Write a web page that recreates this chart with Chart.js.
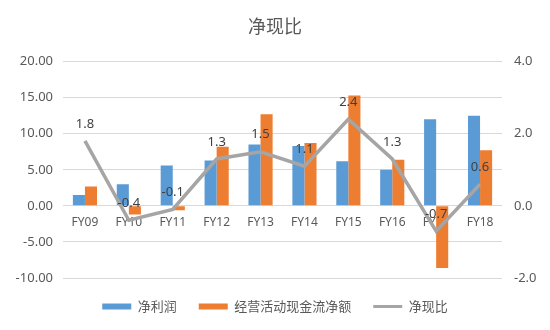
<!DOCTYPE html>
<html><head><meta charset="utf-8">
<script src="https://cdn.jsdelivr.net/npm/chart.js@4/dist/chart.umd.min.js"></script>
<style>html,body{margin:0;padding:0;background:#fff}#w{width:550px;height:330px}</style>
</head><body><div id="w"><canvas id="c" width="550" height="330"></canvas></div>
<script>
const categories = ["FY09","FY10","FY11","FY12","FY13","FY14","FY15","FY16","FY17","FY18"];
const netProfit = [1.5, 3.0, 5.6, 6.3, 8.5, 8.3, 6.2, 5.0, 12.0, 12.5];
const operatingCashFlow = [2.7, -1.2, -0.6, 8.2, 12.7, 8.7, 15.3, 6.4, -8.6, 7.7];
const cashRatio = [1.8, -0.4, -0.1, 1.3, 1.5, 1.1, 2.4, 1.3, -0.7, 0.6];
const seriesNames = ["净利润", "经营活动现金流净额", "净现比"];
const chartTitle = "净现比";

const FONT = '"Noto Sans", "Noto Sans CJK SC", sans-serif';
const CJK = '"Noto Sans CJK SC", "Noto Sans", sans-serif';

const lineLabels = {
  id: 'lineLabels',
  afterDatasetsDraw(chart) {
    const meta = chart.getDatasetMeta(2);
    const ctx = chart.ctx;
    ctx.save();
    ctx.font = '13px ' + FONT;
    ctx.fillStyle = '#404040';
    ctx.textAlign = 'center';
    ctx.textBaseline = 'middle';
    meta.data.forEach((pt, i) => {
      ctx.fillText(cashRatio[i].toFixed(1), pt.x, pt.y - 17);
    });
    ctx.restore();
  }
};

new Chart(document.getElementById('c'), {
  data: {
    labels: categories,
    datasets: [
      { type: 'bar', label: seriesNames[0], data: netProfit, backgroundColor: '#5B9BD5', yAxisID: 'y', order: 2, categoryPercentage: 0.55, barPercentage: 1.0 },
      { type: 'bar', label: seriesNames[1], data: operatingCashFlow, backgroundColor: '#ED7D31', yAxisID: 'y', order: 2, categoryPercentage: 0.55, barPercentage: 1.0 },
      { type: 'line', label: seriesNames[2], data: cashRatio, borderColor: '#A5A5A5', backgroundColor: '#A5A5A5', borderWidth: 3.5, pointRadius: 0, tension: 0, yAxisID: 'y1', order: 0 }
    ]
  },
  options: {
    responsive: false,
    animation: false,
    layout: { padding: { top: 0, bottom: 7, left: 0, right: 0 } },
    plugins: {
      tooltip: { enabled: false },
      title: { display: true, text: chartTitle, font: { family: CJK, size: 18, weight: 'normal' }, color: '#595959', padding: { top: 15, bottom: 25 } },
      legend: {
        position: 'bottom',
        labels: {
          font: { family: CJK, size: 13 },
          color: '#595959',
          usePointStyle: true,
          pointStyleWidth: 29,
          boxHeight: 6,
          padding: 22,
          sort: (a, b) => a.datasetIndex - b.datasetIndex,
          generateLabels(chart) {
            const items = Chart.defaults.plugins.legend.labels.generateLabels(chart);
            items.forEach(it => {
              if (it.datasetIndex === 2) { it.pointStyle = 'line'; it.lineWidth = 3; it.strokeStyle = '#A5A5A5'; }
              else { it.pointStyle = 'rect'; it.lineWidth = 0; }
            });
            return items;
          }
        }
      }
    },
    scales: {
      x: {
        position: { y: 0 },
        grid: { display: false },
        border: { display: false },
        ticks: { font: { family: FONT, size: 12 }, color: '#595959', padding: 2, maxRotation: 0 }
      },
      y: {
        position: 'left',
        min: -10, max: 20,
        ticks: { stepSize: 5, font: { family: FONT, size: 13 }, color: '#595959', callback: v => v.toFixed(2), padding: 10 },
        grid: { color: '#D9D9D9', lineWidth: 1, drawTicks: false },
        border: { display: false },
        afterFit: s => { s.width = 63; }
      },
      y1: {
        position: 'right',
        min: -2, max: 4,
        ticks: { stepSize: 2, font: { family: FONT, size: 13 }, color: '#595959', callback: v => v.toFixed(1), padding: 12 },
        grid: { display: false, drawTicks: false },
        border: { display: false },
        afterFit: s => { s.width = 48; }
      }
    }
  },
  plugins: [lineLabels]
});
</script>
</body></html>
